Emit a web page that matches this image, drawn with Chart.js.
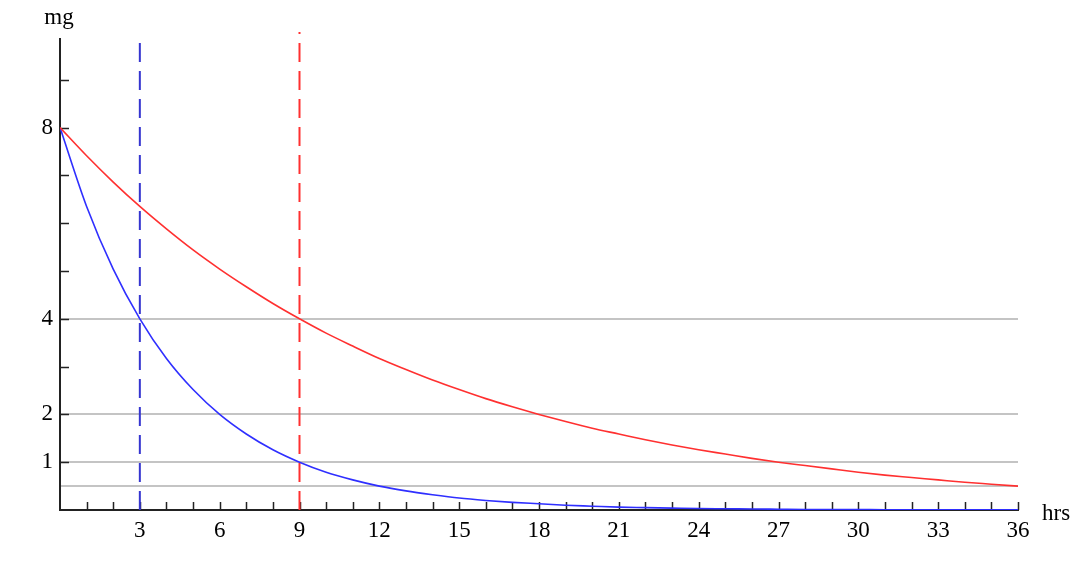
<!DOCTYPE html>
<html>
<head>
<meta charset="utf-8">
<script src="https://cdn.jsdelivr.net/npm/chart.js@4"></script>
<style>
  html, body { margin: 0; padding: 0; background: #fff; }
  #wrap { width: 1092px; height: 572px; position: relative; }
</style>
</head>
<body>
<div id="wrap"><canvas id="decayChart"></canvas></div>
<script>
// values
const hours = [0,1,2,3,4,5,6,7,8,9,10,11,12,13,14,15,16,17,18,19,20,21,22,23,24,25,26,27,28,29,30,31,32,33,34,35,36];
const blueMg = [8, 6.35, 5.04, 4, 3.17, 2.52, 2, 1.59, 1.26, 1, 0.79, 0.63, 0.5, 0.4, 0.32, 0.25, 0.2, 0.16, 0.13, 0.1, 0.08, 0.06, 0.05, 0.04, 0.03, 0.025, 0.02, 0.016, 0.012, 0.01, 0.008, 0.006, 0.005, 0.004, 0.003, 0.002, 0.002];
const redMg = [8, 7.41, 6.86, 6.35, 5.88, 5.44, 5.04, 4.67, 4.32, 4, 3.7, 3.43, 3.17, 2.94, 2.72, 2.52, 2.33, 2.16, 2, 1.85, 1.71, 1.59, 1.47, 1.36, 1.26, 1.17, 1.08, 1, 0.93, 0.86, 0.79, 0.73, 0.68, 0.63, 0.58, 0.54, 0.5];
const markerHours = [3, 9]; // half-life markers (blue, red)
const yTickValues = [0, 0.5, 1, 2, 3, 4, 5, 6, 7, 8, 9];
const yLabelValues = [1, 2, 4, 8];
const gridLevels = [0.5, 1, 2, 4];
const yMarkValues = [1, 2, 3, 4, 5, 6, 7, 8, 9];

const blue = "#2f2fff";
const red = "#ff3030";
const serif = "'Liberation Serif', 'DejaVu Serif', serif";

// small inward tick marks, y axis line, axis names
const axisDecor = {
  id: "axisDecor",
  beforeDatasetsDraw(chart) {
    const { ctx, scales: { x, y } } = chart;
    ctx.save();
    ctx.strokeStyle = "#222";
    ctx.lineWidth = 2;
    ctx.beginPath();
    ctx.moveTo(x.left, y.bottom);
    ctx.lineTo(x.left, y.top + 6);
    ctx.stroke();
    ctx.lineWidth = 1.5;
    ctx.beginPath();
    hours.filter((h) => h > 0).forEach((h) => {
      const px = Math.round(x.getPixelForValue(h)) + 0.5;
      ctx.moveTo(px, y.bottom);
      ctx.lineTo(px, y.bottom - 8);
    });
    yMarkValues.forEach((v) => {
      const py = Math.round(y.getPixelForValue(v)) + 0.5;
      ctx.moveTo(x.left, py);
      ctx.lineTo(x.left + 9, py);
    });
    ctx.stroke();
    ctx.restore();
  },
  afterDraw(chart) {
    const { ctx } = chart;
    ctx.save();
    ctx.fillStyle = "#000";
    ctx.font = "23px " + serif;
    ctx.textBaseline = "middle";
    ctx.textAlign = "center";
    ctx.fillText("mg", 59, 18);
    ctx.textAlign = "left";
    ctx.fillText("hrs", 1042, 514);
    ctx.restore();
  },
};

const ctx = document.getElementById("decayChart").getContext("2d");
new Chart(ctx, {
  type: "line",
  data: {
    datasets: [
      {
        data: hours.map((h, i) => ({ x: h, y: redMg[i] })),
        borderColor: red,
        borderWidth: 1.6,
        pointRadius: 0,
        cubicInterpolationMode: "monotone",
      },
      {
        data: hours.map((h, i) => ({ x: h, y: blueMg[i] })),
        borderColor: blue,
        borderWidth: 1.6,
        pointRadius: 0,
        cubicInterpolationMode: "monotone",
      },
      {
        data: [{ x: markerHours[0], y: 0 }, { x: markerHours[0], y: 9.8 }],
        borderColor: "#3535d0",
        borderWidth: 2,
        borderDash: [19, 9],
        pointRadius: 0,
      },
      {
        data: [{ x: markerHours[1], y: 0 }, { x: markerHours[1], y: 10 }],
        borderColor: red,
        borderWidth: 2,
        borderDash: [19, 9],
        pointRadius: 0,
      },
    ],
  },
  options: {
    responsive: true,
    maintainAspectRatio: false,
    animation: false,
    layout: { padding: { top: 32, right: 74, left: 0, bottom: 0 } },
    plugins: {
      legend: { display: false },
      tooltip: { enabled: false },
    },
    scales: {
      x: {
        type: "linear",
        min: 0,
        max: 36,
        afterFit: (scale) => { scale.height = 62; },
        grid: { display: false, drawTicks: false },
        border: { display: true, color: "#222", width: 2 },
        ticks: {
          stepSize: 3,
          padding: 7,
          color: "#000",
          font: { family: serif, size: 23 },
          callback: (v) => (v > 0 ? String(v) : ""),
          maxRotation: 0,
        },
      },
      y: {
        type: "linear",
        min: 0,
        max: 10,
        afterFit: (scale) => { scale.width = 60; },
        afterBuildTicks: (scale) => {
          scale.ticks = yTickValues.map((v) => ({ value: v }));
        },
        grid: {
          drawTicks: false,
          lineWidth: 2,
          color: (c) => (gridLevels.includes(c.tick.value) ? "#c4c4c4" : "rgba(0,0,0,0)"),
        },
        border: { display: false },
        ticks: {
          padding: 7,
          color: "#000",
          font: { family: serif, size: 23 },
          callback: (v) => (yLabelValues.includes(v) ? String(v) : ""),
        },
      },
    },
  },
  plugins: [axisDecor],
});
</script>
</body>
</html>
